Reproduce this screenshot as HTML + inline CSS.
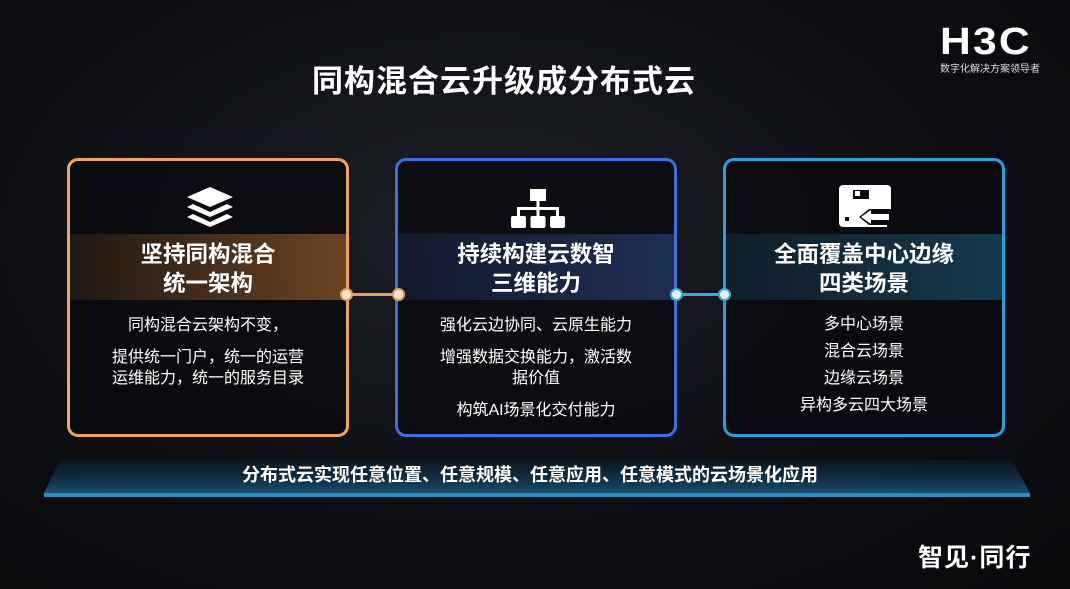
<!DOCTYPE html>
<html><head><meta charset="utf-8"><style>
*{margin:0;padding:0;box-sizing:border-box}
body{width:1070px;height:589px;overflow:hidden;background:radial-gradient(ellipse at 45% 40%,#1c1f26 0%,#0d0f13 55%,#07080a 100%);font-family:"Liberation Sans","Noto Sans CJK SC",sans-serif;color:#fff;position:relative}
.a{position:absolute}
.title{left:0;width:1008px;top:56px;text-align:center;font-size:31px;font-weight:bold;letter-spacing:1px}
.box{position:absolute;top:158px;width:282px;height:279px;border:3px solid;border-radius:11px;background:rgba(8,9,12,.75);overflow:hidden}
.band{position:absolute;left:0;right:0;top:73px;height:66px}
.h{position:absolute;left:0;right:0;text-align:center;font-weight:bold;font-size:22.5px;line-height:29px}
.t{position:absolute;left:0;right:0;text-align:center;font-size:16px;line-height:21px}
.dot{position:absolute;width:13px;height:13px;border-radius:50%;top:288px}
</style></head><body>
<div class="a title">同构混合云升级成分布式云</div>
<div class="a" style="left:940px;top:22px;font-size:38px;font-weight:bold;letter-spacing:2px;line-height:40px;transform:scaleX(1.12);transform-origin:left">H3C</div>
<div class="a" style="left:940px;top:60px;font-size:10px;color:#ddd">数字化解决方案领导者</div>

<div class="a" style="left:349px;top:293px;width:48px;height:3px;background:#e8a060"></div>
<div class="a" style="left:677px;top:293px;width:48px;height:3px;background:#3aa8e0"></div>

<div class="box" style="left:67px;border-color:#f2a55a">
 <div class="band" style="background:linear-gradient(90deg,rgba(120,70,30,.2),rgba(140,85,40,.75))"></div>
 <svg class="a" style="left:115px;top:25px" width="50" height="42" viewBox="0 0 50 42"><path d="M25 1 L48 11 L25 21 L2 11Z" fill="#fff"/><path d="M8 18 L25 26 L42 18 L48 21 L25 31 L2 21Z" fill="#fff"/><path d="M8 28 L25 36 L42 28 L48 31 L25 41 L2 31Z" fill="#fff"/></svg>
 <div class="h" style="top:79px">坚持同构混合<br>统一架构</div>
 <div class="t" style="top:154px">同构混合云架构不变，</div>
 <div class="t" style="top:186px">提供统一门户，统一的运营<br>运维能力，统一的服务目录</div>
</div>

<div class="box" style="left:395px;border-color:#3d6fe0">
 <div class="band" style="background:linear-gradient(90deg,rgba(30,50,100,.3),rgba(40,70,130,.6))"></div>
 <svg class="a" style="left:113px;top:28px" width="54" height="40" viewBox="0 0 54 40"><rect x="19" y="0" width="16" height="12" fill="#fff"/><rect x="25.5" y="12" width="3" height="8" fill="#fff"/><rect x="6" y="18" width="42" height="3" fill="#fff"/><rect x="6" y="18" width="3" height="10" fill="#fff"/><rect x="45" y="18" width="3" height="10" fill="#fff"/><rect x="25.5" y="18" width="3" height="10" fill="#fff"/><rect x="0" y="27" width="15" height="12" rx="2" fill="#fff"/><rect x="19.5" y="27" width="15" height="12" rx="2" fill="#fff"/><rect x="39" y="27" width="15" height="12" rx="2" fill="#fff"/></svg>
 <div class="h" style="top:79px">持续构建云数智<br>三维能力</div>
 <div class="t" style="top:154px">强化云边协同、云原生能力</div>
 <div class="t" style="top:186px">增强数据交换能力，激活数<br>据价值</div>
 <div class="t" style="top:239px">构筑AI场景化交付能力</div>
</div>

<div class="box" style="left:723px;border-color:#2a9ee0">
 <div class="band" style="background:linear-gradient(90deg,rgba(20,60,90,.35),rgba(30,90,120,.6))"></div>
 <svg class="a" style="left:113px;top:24px" width="52" height="42" viewBox="0 0 52 42"><path d="M4 0 H48 a4 4 0 0 1 4 4 V24 H30 L20 32 L30 40 H48 V42 H4 a4 4 0 0 1 -4 -4 V4 a4 4 0 0 1 4 -4Z" fill="#fff"/><rect x="14" y="5" width="16" height="9" fill="#0a0b0e"/><rect x="16" y="6" width="5" height="5" fill="#fff"/><rect x="6" y="32" width="4" height="4" fill="#0a0b0e"/><path d="M22 32 L32 25 V29 H50 V35 H32 V39Z" fill="#fff"/></svg>
 <div class="h" style="top:79px">全面覆盖中心边缘<br>四类场景</div>
 <div class="t" style="top:150px;line-height:27px">多中心场景<br>混合云场景<br>边缘云场景<br>异构多云四大场景</div>
</div>

<div class="dot" style="left:340px;background:#fbe6d0;border:2px solid #e8a060"></div>
<div class="dot" style="left:392px;background:#fbe6d0;border:2px solid #e8a060"></div>
<div class="dot" style="left:670px;background:#e0f6ff;border:2px solid #3aa8e0"></div>
<div class="dot" style="left:718px;background:#e0f6ff;border:2px solid #3aa8e0"></div>

<svg class="a" style="left:0;top:460px" width="1070" height="45"><defs><linearGradient id="g" x1="0" y1="0" x2="0" y2="1"><stop offset="0" stop-color="#0d2a3e" stop-opacity=".3"/><stop offset="1" stop-color="#174e70"/></linearGradient></defs><path d="M60 0 H1012 L1030 33 H44Z" fill="url(#g)"/><rect x="44" y="33" width="986" height="4" fill="#2a8cc0"/></svg>
<div class="a" style="left:0;width:1070px;top:461px;text-align:center;font-size:18px;font-weight:bold;padding-right:10px">分布式云实现任意位置、任意规模、任意应用、任意模式的云场景化应用</div>

<div class="a" style="left:918px;top:538px;font-size:25px;font-weight:bold;letter-spacing:1px">智见·同行</div>
</body></html>
